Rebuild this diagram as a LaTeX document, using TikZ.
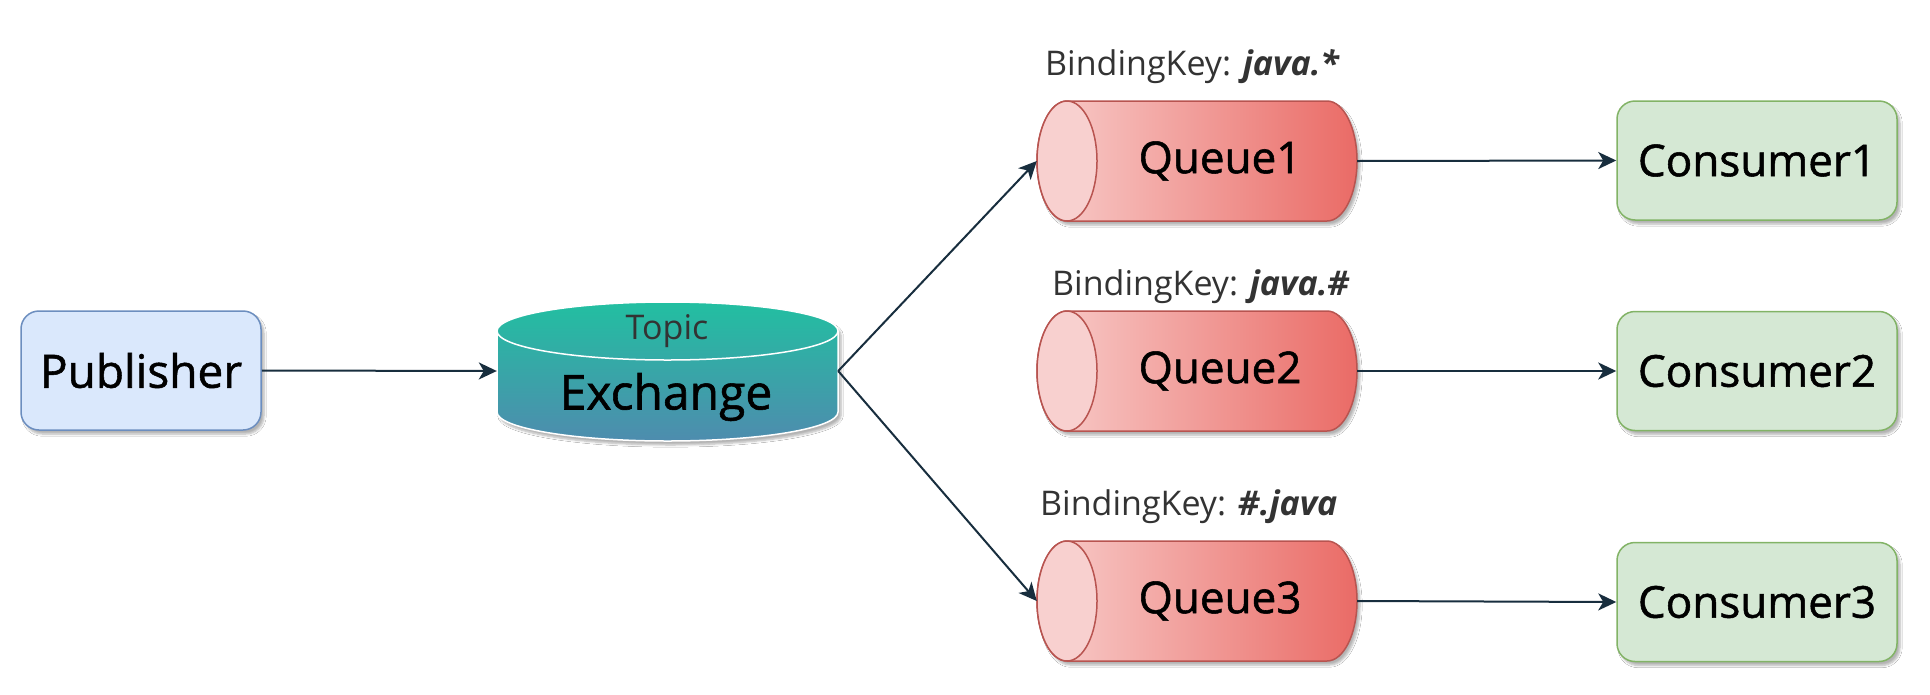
\documentclass[tikz,border=0pt]{standalone}
\usepackage{fontspec}
\setmainfont{Open Sans}
\usetikzlibrary{arrows.meta,shadows.blur}
\definecolor{pubfill}{HTML}{DAE8FC}
\definecolor{pubdraw}{HTML}{6C8EBF}
\definecolor{confill}{HTML}{D5E8D4}
\definecolor{condraw}{HTML}{82B366}
\definecolor{qleft}{HTML}{F8CECC}
\definecolor{qright}{HTML}{EA6B66}
\definecolor{qdraw}{HTML}{B85450}
\definecolor{extop}{HTML}{22BFA1}
\definecolor{exbot}{HTML}{4E8CAE}
\definecolor{arrowc}{HTML}{182E3E}
\definecolor{lblc}{HTML}{333333}
\newfontfamily\heavy[FakeBold=1.2]{Open Sans}
\newcommand\myqueue[1]{%
  \shade[shd, left color=qleft, right color=qright, draw=qdraw, line width=1.5pt]
    (1067,#1-60) -- (1327,#1-60) arc[start angle=-90, end angle=90, x radius=30, y radius=60]
    -- (1067,#1+60) arc[start angle=90, end angle=270, x radius=30, y radius=60] -- cycle;
  \fill[qleft!95!white] (1067,#1) ellipse[x radius=30, y radius=60];
  \draw[qdraw, line width=1.5pt] (1067,#1) ellipse[x radius=30, y radius=60];
}
\begin{document}
\begin{tikzpicture}[x=1pt,y=-1pt,
  shd/.style={blur shadow={shadow xshift=3pt,shadow yshift=-4pt,shadow blur steps=6,shadow opacity=30}},
  pubbox/.style={rounded corners=18pt, line width=1.5pt, fill=pubfill, draw=pubdraw, minimum width=240pt, minimum height=119pt, font=\heavy\fontsize{46pt}{54pt}\selectfont, shd},
  conbox/.style={rounded corners=18pt, line width=1.5pt, fill=confill, draw=condraw, minimum width=280pt, minimum height=119pt, font=\heavy\fontsize{44pt}{52pt}\selectfont, shd},
  qnode/.style={minimum width=320pt, minimum height=120pt, inner sep=0pt},
  qtext/.style={font=\heavy\fontsize{44pt}{52pt}\selectfont, inner sep=0pt},
  lbl/.style={font=\fontsize{34pt}{40pt}\selectfont, text=lblc, inner sep=0pt, anchor=base west},
  arr/.style={draw=arrowc, line width=2pt, -{Stealth[length=18pt,width=17pt,inset=5pt]}}
]
\fill[white] (0,0) rectangle (1930,694);
\useasboundingbox (0,0) rectangle (1930,694);

% Exchange cylinder
\shade[shd, top color=extop, bottom color=exbot, draw=white, line width=1.5pt]
  (497,331) -- (497,412) arc[start angle=180, end angle=0, x radius=170.5, y radius=29]
  -- (838,331) arc[start angle=0, end angle=-180, x radius=170.5, y radius=29] -- cycle;
\draw[white, line width=1.5pt] (497,331) arc[start angle=180, end angle=0, x radius=170.5, y radius=29];
\node[minimum width=341pt, minimum height=139pt, inner sep=0pt] (ex) at (667.5,371) {};
\node[font=\fontsize{34pt}{40pt}\selectfont, text=lblc, inner sep=0pt] (topic) at (667,331) {Topic};
\node[font=\heavy\fontsize{48pt}{56pt}\selectfont, inner sep=0pt] (exlbl) at (666,397) {Exchange};

% Queues
\myqueue{161}
\myqueue{371}
\myqueue{601}
\node[qnode] (q1) at (1197,161) {};
\node[qnode] (q2) at (1197,371) {};
\node[qnode] (q3) at (1197,601) {};
\node[qtext] (q1t) at (1220,161) {Queue1};
\node[qtext] (q2t) at (1220,371) {Queue2};
\node[qtext] (q3t) at (1220,601) {Queue3};

% Binding key labels
\node[lbl] (k1) at (1045,75) {BindingKey: \textbf{\textit{java.*}}};
\node[lbl] (k2) at (1052,295) {BindingKey: \textbf{\textit{java.\#}}};
\node[lbl] (k3) at (1040,515) {BindingKey: \textbf{\textit{\#.java}}};

% Publisher and consumers
\node[pubbox] (pub) at (141,370.5) {Publisher};
\node[conbox] (c1) at (1757,160.5) {Consumer1};
\node[conbox] (c2) at (1757,371) {Consumer2};
\node[conbox] (c3) at (1757,602) {Consumer3};

% Connectors
\draw[arr] (pub.east) -- (ex.west);
\draw[arr] (ex.east) -- (q1.west);
\draw[arr] (ex.east) -- (q3.west);
\draw[arr] (q1.east) -- (c1.west);
\draw[arr] (q2.east) -- (c2.west);
\draw[arr] (q3.east) -- (c3.west);
\end{tikzpicture}
\end{document}
